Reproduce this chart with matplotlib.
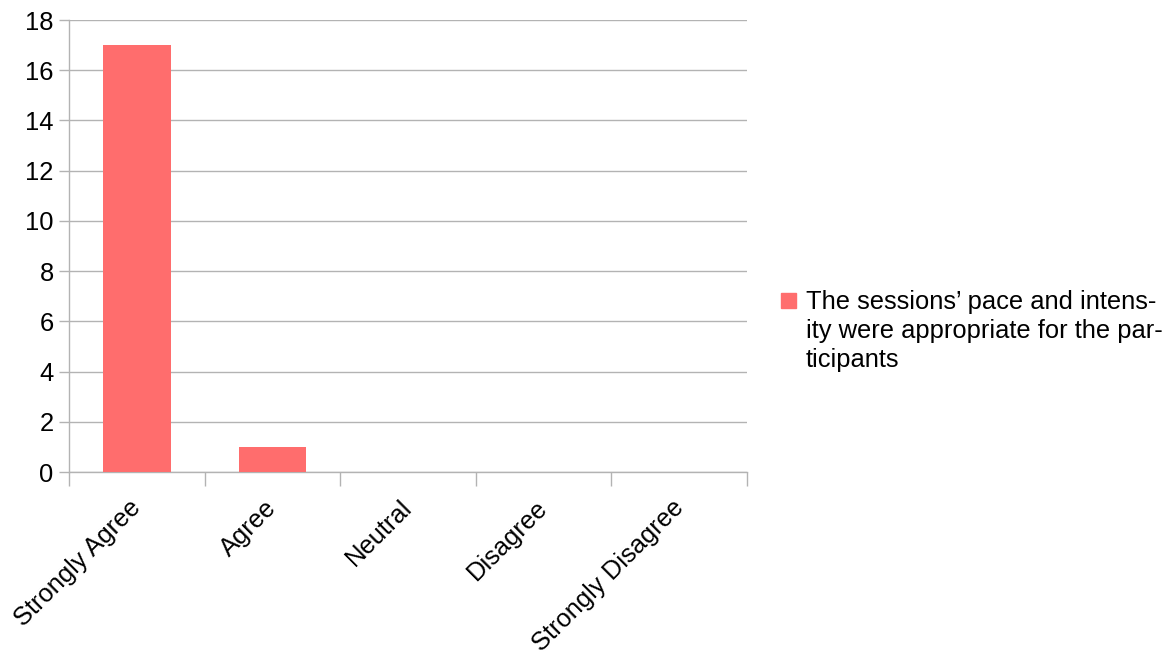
import matplotlib.pyplot as plt
import matplotlib.transforms as mtransforms
from matplotlib.patches import Rectangle

# ====================== DATA ======================
categories = ["Strongly Agree", "Agree", "Neutral", "Disagree", "Strongly Disagree"]
counts = [17, 1, 0, 0, 0]
series_label = "The sessions\u2019 pace and intens-\nity were appropriate for the par-\nticipants"

# ====================== STYLE ======================
bar_color = "#ff6d6d"
grid_color = "#b3b3b3"
font_size = 18.4
plt.rcParams["font.family"] = ["Liberation Sans", "DejaVu Sans"]

fig = plt.figure(figsize=(11.71, 6.52), dpi=100)
ax = fig.add_axes([69 / 1171, 1 - 472 / 652, (747 - 69) / 1171, (472 - 20) / 652])

x = list(range(len(categories)))
ax.bar(x, counts, width=0.5, color=bar_color, zorder=3)

ax.set_xlim(-0.5, len(categories) - 0.5)
ax.set_ylim(0, 18)
ax.set_yticks(range(0, 19, 2))
ax.tick_params(axis="y", labelsize=font_size, length=7, color=grid_color, width=1, pad=4)

# category ticks sit at the boundaries, labels at the centres
ax.set_xticks([i - 0.5 for i in range(len(categories) + 1)])
ax.set_xticklabels([])
ax.set_xticks(x, minor=True)
ax.set_xticklabels(categories, minor=True, rotation=45, ha="right",
                   rotation_mode="anchor", fontsize=font_size)
ax.tick_params(axis="x", which="major", length=10, color=grid_color, width=1)
ax.tick_params(axis="x", which="minor", length=0, pad=12)

# nudge the rotated labels a bit left and down
shift = mtransforms.ScaledTranslation(-8 / 100, -7 / 100, fig.dpi_scale_trans)
for lbl in ax.get_xticklabels(minor=True):
    lbl.set_transform(lbl.get_transform() + shift)

ax.grid(axis="y", color=grid_color, linewidth=1, zorder=0)
for side in ["top", "right"]:
    ax.spines[side].set_visible(False)
for side in ["left", "bottom"]:
    ax.spines[side].set_color(grid_color)
    ax.spines[side].set_linewidth(1)

# ====================== LEGEND ======================
fig.patches.append(Rectangle((781 / 1171, 1 - 308 / 652), 15 / 1171, 15 / 652,
                             transform=fig.transFigure, color=bar_color))
fig.text(806 / 1171, 1 - 290 / 652, series_label, fontsize=font_size,
         va="top", ha="left", linespacing=1.25)

fig.savefig("out.png", dpi=100)
